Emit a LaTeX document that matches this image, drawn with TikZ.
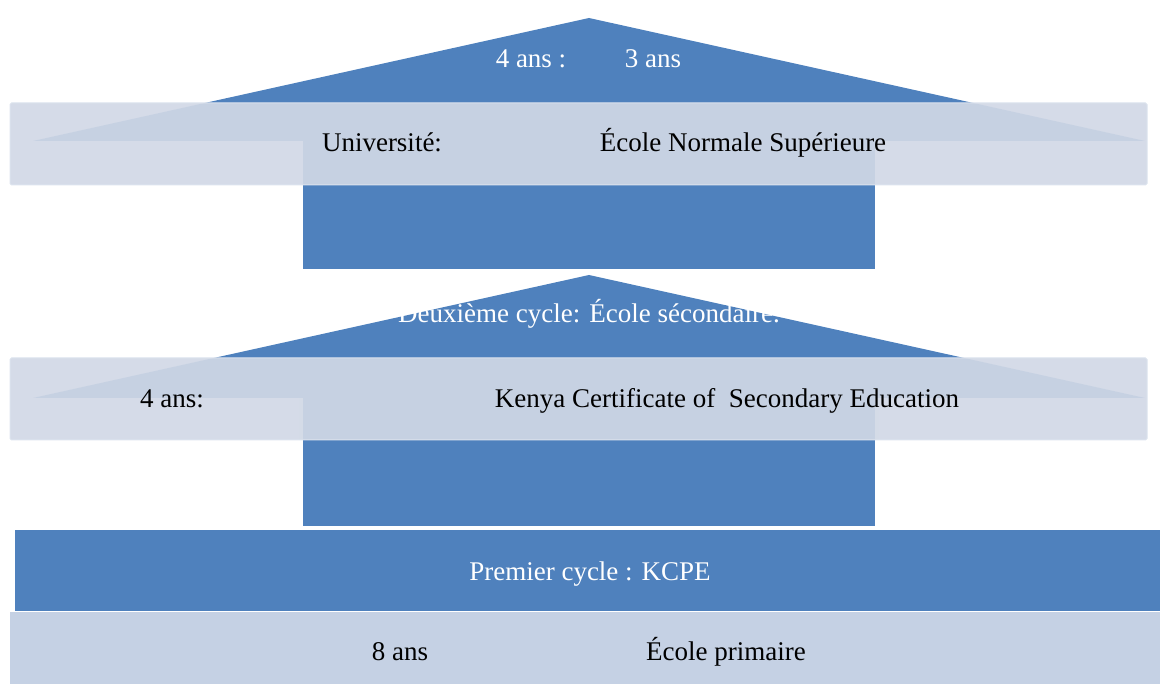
\documentclass[tikz,border=0pt]{standalone}
\usepackage{fontspec}
\setmainfont{Liberation Serif}
\newfontfamily\cycleserif{Liberation Serif}
\usepackage{xcolor}

\definecolor{hblue}{HTML}{4F81BD}
\definecolor{bandfill}{HTML}{D1D8E6}
\definecolor{bandedge}{HTML}{DCE3EE}
\definecolor{basefill}{HTML}{C5D1E4}
\newcommand{\cyclefont}{\cycleserif\fontsize{27}{32}\selectfont}

\begin{document}
\begin{tikzpicture}[x=1pt,y=1pt,yscale=-1,xscale=1,
  house/.style={fill=hblue, draw=none},
  band/.style={fill=bandfill, fill opacity=0.92, draw=bandedge, line width=1, rounded corners=1.5},
  txtw/.style={text=white, font=\cyclefont, anchor=base, inner sep=0},
  txtb/.style={text=black, font=\cyclefont, anchor=base, inner sep=0}]
\useasboundingbox (0,0) rectangle (1160,684);

%Shape: Rectangle [bas, primaire]
\fill [basefill] (10,612) rectangle (1165,690);
%Shape: Rectangle [bas, premier cycle]
\fill [hblue] (15,530) rectangle (1165,611);

%Shape: Triangle [toit, secondaire]
\draw [house] (589,275) -- (1145,398) -- (33,398) -- cycle ;
%Shape: Rectangle [corps, secondaire]
\fill [white] (299,398) rectangle (879,530);
\draw [house] (303,396) -- (875,396) -- (875,526) -- (303,526) -- cycle ;
%Shape: Rectangle [bande, secondaire]
\draw [band] (10,358) rectangle (1147,440);

%Shape: Triangle [toit, universite]
\draw [house] (589,18) -- (1145,141) -- (33,141) -- cycle ;
%Shape: Rectangle [corps, universite]
\draw [house] (303,140) -- (875,140) -- (875,269) -- (303,269) -- cycle ;
%Shape: Rectangle [bande, universite]
\draw [band] (10,103) rectangle (1147,185);

% Text Node
\draw (531,68) node (dureeUni) [txtw] {4 ans :};
% Text Node
\draw (653,68) node (dureeENS) [txtw] {3 ans};
% Text Node
\draw (382,152) node (univ) [txtb] {Université:};
% Text Node
\draw (743,152) node (ens) [txtb] {École Normale Supérieure};
% Text Node
\draw (589,323) node (deuxieme) [txtw] {Deuxième cycle: École sécondaire.};
% Text Node
\draw (172,408) node (dureeSec) [txtb] {4 ans:};
% Text Node
\draw (727,408) node (kcse) [txtb] {Kenya Certificate of\ \ Secondary Education};
% Text Node
\draw (590,580) node (premier) [txtw] {Premier cycle : KCPE};
% Text Node
\draw (400,660) node (dureePrim) [txtb] {8 ans};
% Text Node
\draw (726,660) node (primaire) [txtb] {École primaire};

\end{tikzpicture}
\end{document}
